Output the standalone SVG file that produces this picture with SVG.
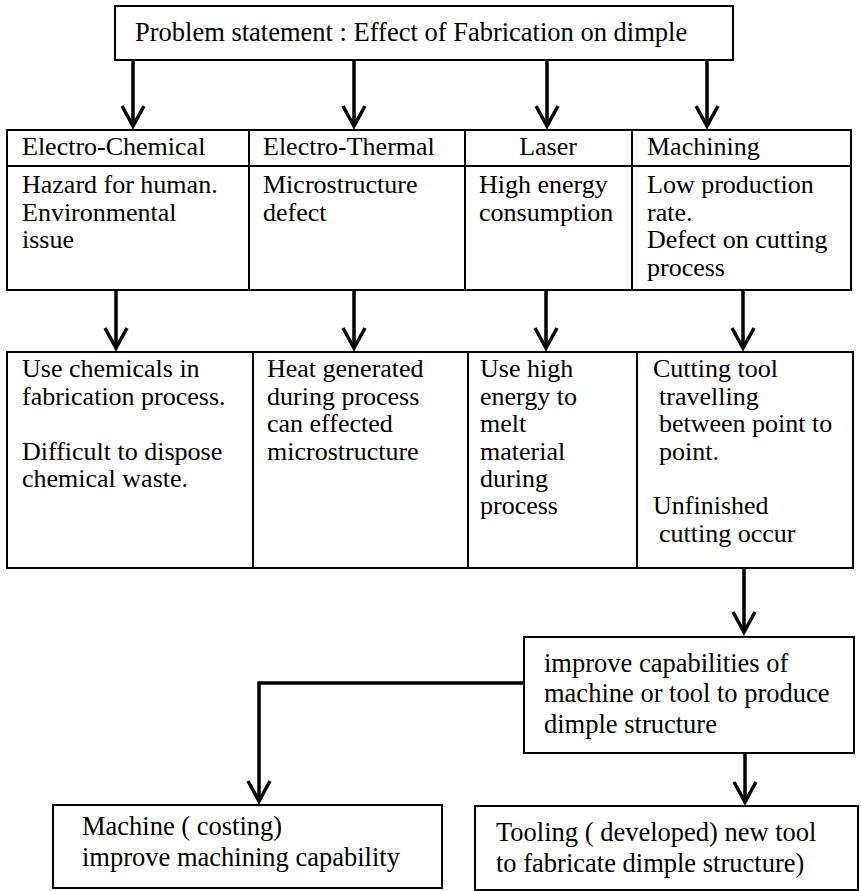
<svg xmlns="http://www.w3.org/2000/svg" width="861" height="891" viewBox="0 0 861 891">
<style>
text{font-family:"Liberation Serif","Times New Roman",serif;font-size:26px;fill:#000}
.big{font-size:26.5px}
.box{fill:#fff;stroke:#000;stroke-width:2}
.sep{stroke:#000;stroke-width:2}
.conn{fill:none;stroke:#000;stroke-width:3.5}
</style>
<defs>
<marker id="arr" viewBox="-26 -14 30 28" markerWidth="30" markerHeight="28" refX="0" refY="0" orient="auto" markerUnits="userSpaceOnUse">
<path d="M-20,-11 L0,0 L-20,11" fill="none" stroke="#000" stroke-width="3.5"/>
</marker>
</defs>
<rect width="861" height="891" fill="#fff"/>

<g id="connectors">
<line class="conn" x1="133" y1="60" x2="133" y2="126" marker-end="url(#arr)"/>
<line class="conn" x1="354" y1="60" x2="354" y2="126" marker-end="url(#arr)"/>
<line class="conn" x1="547" y1="60" x2="547" y2="126" marker-end="url(#arr)"/>
<line class="conn" x1="707" y1="60" x2="707" y2="126" marker-end="url(#arr)"/>
<line class="conn" x1="116" y1="290" x2="116" y2="348" marker-end="url(#arr)"/>
<line class="conn" x1="354" y1="290" x2="354" y2="348" marker-end="url(#arr)"/>
<line class="conn" x1="546" y1="290" x2="546" y2="348" marker-end="url(#arr)"/>
<line class="conn" x1="743" y1="290" x2="743" y2="348" marker-end="url(#arr)"/>
<line class="conn" x1="744" y1="568" x2="744" y2="632" marker-end="url(#arr)"/>
<path class="conn" d="M524,683 H259 V801" marker-end="url(#arr)"/>
<line class="conn" x1="745" y1="753" x2="745" y2="802" marker-end="url(#arr)"/>
</g>

<g id="problem">
<rect class="box" x="115" y="6" width="618" height="54"/>
<text class="big" x="135" y="41">Problem statement : Effect of Fabrication on dimple</text>
</g>

<g id="electro-chemical">
<rect class="box" x="7" y="130" width="242" height="160"/>
<line class="sep" x1="7" y1="166" x2="249" y2="166"/>
<text x="22" y="155">Electro-Chemical</text>
<text x="22" y="193">Hazard for human.</text>
<text x="22" y="220.5">Environmental</text>
<text x="22" y="248">issue</text>
</g>
<g id="electro-thermal">
<rect class="box" x="249" y="130" width="216" height="160"/>
<line class="sep" x1="249" y1="166" x2="465" y2="166"/>
<text x="263" y="155">Electro-Thermal</text>
<text x="263" y="193">Microstructure</text>
<text x="263" y="220.5">defect</text>
</g>
<g id="laser">
<rect class="box" x="465" y="130" width="167" height="160"/>
<line class="sep" x1="465" y1="166" x2="632" y2="166"/>
<text x="548" y="155" text-anchor="middle">Laser</text>
<text x="479" y="193">High energy</text>
<text x="479" y="220.5">consumption</text>
</g>
<g id="machining">
<rect class="box" x="632" y="130" width="219" height="160"/>
<line class="sep" x1="632" y1="166" x2="851" y2="166"/>
<text x="647" y="155">Machining</text>
<text x="647" y="193">Low production</text>
<text x="647" y="220.5">rate.</text>
<text x="647" y="248">Defect on cutting</text>
<text x="647" y="275.5">process</text>
</g>

<g id="chem-detail">
<rect class="box" x="7" y="352" width="246" height="216"/>
<text x="22" y="377">Use chemicals in</text>
<text x="22" y="404.5">fabrication process.</text>
<text x="22" y="459.5">Difficult to dispose</text>
<text x="22" y="487">chemical waste.</text>
</g>
<g id="thermal-detail">
<rect class="box" x="253" y="352" width="215" height="216"/>
<text x="267" y="377">Heat generated</text>
<text x="267" y="404.5">during process</text>
<text x="267" y="432">can effected</text>
<text x="267" y="459.5">microstructure</text>
</g>
<g id="laser-detail">
<rect class="box" x="468" y="352" width="169" height="216"/>
<text x="480" y="377">Use high</text>
<text x="480" y="404.5">energy to</text>
<text x="480" y="432">melt</text>
<text x="480" y="459.5">material</text>
<text x="480" y="487">during</text>
<text x="480" y="514">process</text>
</g>
<g id="machining-detail">
<rect class="box" x="637" y="352" width="216" height="216"/>
<text x="653" y="377">Cutting tool</text>
<text x="659" y="404.5">travelling</text>
<text x="659" y="432">between point to</text>
<text x="659" y="459.5">point.</text>
<text x="653" y="514">Unfinished</text>
<text x="659" y="541.5">cutting occur</text>
</g>

<g id="improve">
<rect class="box" x="524" y="637" width="330" height="116"/>
<text class="big" x="544" y="672">improve capabilities of</text>
<text class="big" x="544" y="702">machine or tool to produce</text>
<text class="big" x="544" y="733">dimple structure</text>
</g>

<g id="machine">
<rect class="box" x="53" y="805" width="389" height="83"/>
<text class="big" x="82" y="835">Machine ( costing)</text>
<text class="big" x="82" y="866">improve machining capability</text>
</g>

<g id="tooling">
<rect class="box" x="475" y="806" width="383" height="84"/>
<text class="big" x="496" y="841">Tooling ( developed) new tool</text>
<text class="big" x="496" y="872">to fabricate dimple structure)</text>
</g>
</svg>
